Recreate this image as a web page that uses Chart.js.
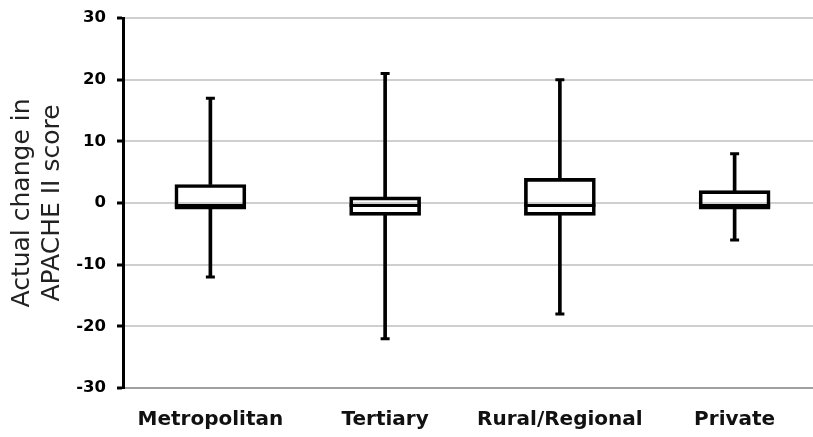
<!DOCTYPE html>
<html>
<head>
<meta charset="utf-8">
<title>APACHE II change by hospital type</title>
<script src="https://cdn.jsdelivr.net/npm/chart.js@4/dist/chart.umd.min.js"></script>
<style>
  html, body { margin: 0; padding: 0; background: #fff; overflow: hidden; }
</style>
</head>
<body>
<canvas id="chart" width="822" height="437"></canvas>
<script>
// values
const categories    = ["Metropolitan", "Tertiary", "Rural/Regional", "Private"];
const whiskerMax    = [17, 21, 20, 8];
const upperQuartile = [3, 1, 4, 2];
const medians       = [-0.4, -0.4, -0.4, -0.4];
const lowerQuartile = [-1, -2, -2, -1];
const whiskerMin    = [-12, -22, -18, -6];
const yTicks        = [-30, -20, -10, 0, 10, 20, 30];
const yTitle        = ["Actual change in", "APACHE II score"];

const INK = "#000";

function pairs(a, b) { return a.map((v, i) => [v, b[i]]); }

function capSet(data, radius, order) {
  return {
    type: "line", data, showLine: false, order,
    pointStyle: "line", pointRadius: radius, pointHoverRadius: radius,
    pointBorderWidth: 3, pointHoverBorderWidth: 3,
    pointBorderColor: INK, pointBackgroundColor: INK
  };
}

function whiskerSet(data) {
  return {
    type: "bar", data, grouped: false, order: 3,
    barThickness: 3, backgroundColor: INK, borderWidth: 0
  };
}

const ctx = document.getElementById("chart").getContext("2d");
new Chart(ctx, {
  data: {
    labels: categories,
    datasets: [
      whiskerSet(pairs(upperQuartile, whiskerMax)),
      whiskerSet(pairs(whiskerMin, lowerQuartile)),
      {
        type: "bar", data: pairs(lowerQuartile, upperQuartile), grouped: false, order: 2,
        barThickness: 71, backgroundColor: "rgba(255,255,255,0)",
        borderColor: INK, borderWidth: 3, borderSkipped: false
      },
      capSet(medians, 35.5, 1),
      capSet(whiskerMax, 4.5, 1),
      capSet(whiskerMin, 4.5, 1)
    ]
  },
  options: {
    responsive: false,
    animation: false,
    events: [],
    layout: { autoPadding: false, padding: { top: 18, left: 0, right: 0, bottom: 0 } },
    plugins: { legend: { display: false }, tooltip: { enabled: false } },
    scales: {
      x: {
        offset: true,
        grid: { display: false, drawTicks: false, tickLength: 0 },
        border: { display: true, color: "#a0a0a0", width: 2 },
        ticks: {
          padding: 20, color: "#111", autoSkip: false, minRotation: 0, maxRotation: 0,
          font: { family: "DejaVu Sans", size: 20, weight: "bold" }
        },
        afterFit: s => { s.height = 49; s.paddingLeft = 0; s.paddingRight = 0; }
      },
      y: {
        min: -30, max: 30,
        afterBuildTicks: s => { s.ticks = yTicks.map(v => ({ value: v })); },
        grid: { color: "#cfcfcf", lineWidth: 2, tickColor: INK, tickWidth: 3, tickLength: 6 },
        border: { color: INK, width: 3 },
        ticks: {
          padding: 11, color: INK,
          font: { family: "DejaVu Sans", size: 16.5, weight: "bold" }
        },
        title: {
          display: true, text: yTitle, color: "#222",
          padding: { top: 7, bottom: 0 },
          font: { family: "DejaVu Sans", size: 25, lineHeight: 1.2 }
        },
        afterFit: s => { s.width = 123; s.paddingTop = 0; s.paddingBottom = 0; }
      }
    }
  }
});
</script>
</body>
</html>
